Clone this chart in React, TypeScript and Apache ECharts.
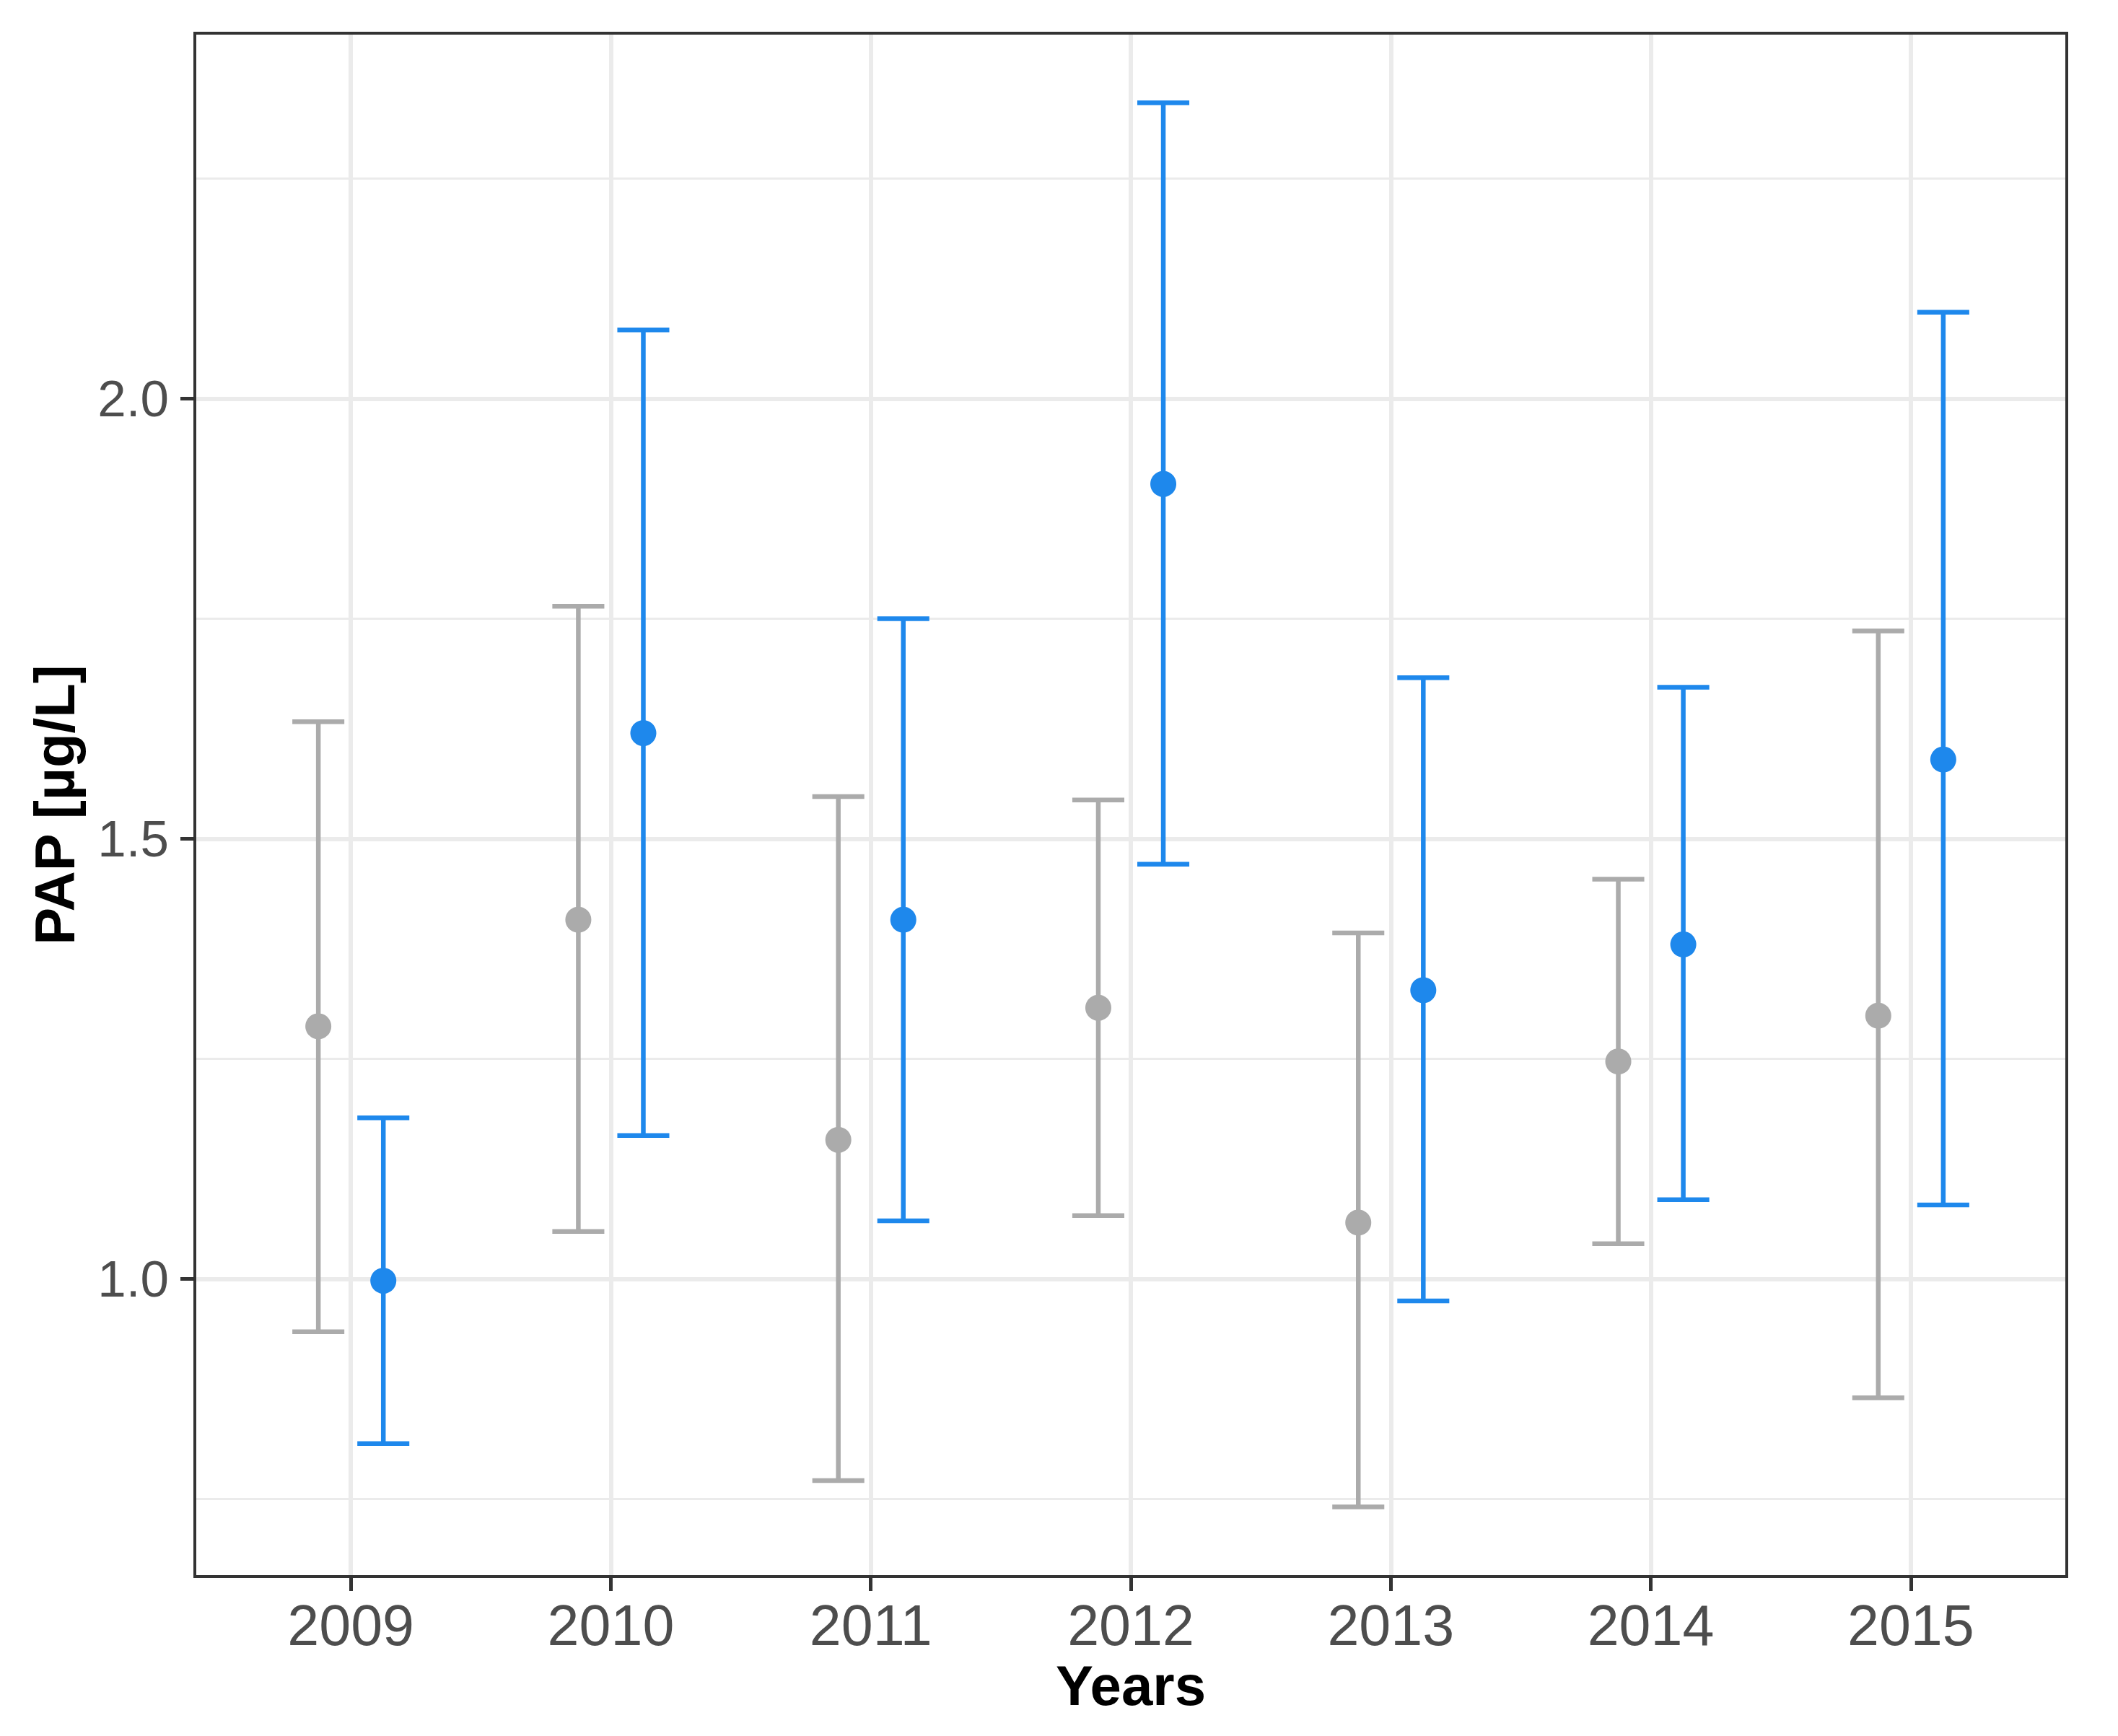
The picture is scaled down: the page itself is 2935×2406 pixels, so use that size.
import React, { useEffect, useRef } from 'react';
import * as echarts from 'echarts';

// ---- data ----
const years = [2009, 2010, 2011, 2012, 2013, 2014, 2015];
const greyMean = [1.287, 1.408, 1.158, 1.308, 1.064, 1.247, 1.299];
const greyLower = [0.940, 1.054, 0.771, 1.072, 0.741, 1.040, 0.865];
const greyUpper = [1.633, 1.764, 1.548, 1.544, 1.393, 1.454, 1.736];
const blueMean = [0.998, 1.620, 1.408, 1.903, 1.328, 1.380, 1.590];
const blueLower = [0.813, 1.163, 1.066, 1.471, 0.975, 1.090, 1.084];
const blueUpper = [1.183, 2.078, 1.750, 2.336, 1.683, 1.672, 2.098];
const yTicks = [1.0, 1.5, 2.0];
const yMinor = [0.75, 1.25, 1.75, 2.25];

// ---- style ----
const GREY = '#ABABAB';
const BLUE = '#1E88EC';
const DODGE = 0.125;
const CAP = 0.2;
const FONT = 'Liberation Sans, Arial, sans-serif';
const GRID_COLOR = '#EBEBEB';

function errSeries(lower: number[], upper: number[], color: string, off: number) {
  return {
    type: 'custom',
    z: 4,
    silent: true,
    data: years.map((y, i) => [y, lower[i], upper[i]]),
    encode: { x: 0, y: [1, 2] },
    renderItem: (params: any, api: any) => {
      const x = api.value(0) + off;
      const lo = api.coord([x, api.value(1)]);
      const hi = api.coord([x, api.value(2)]);
      const hw = api.size([CAP, 0])[0] / 2;
      const style = { stroke: color, lineWidth: 6.5, fill: null };
      return {
        type: 'group',
        children: [
          { type: 'line', shape: { x1: lo[0], y1: lo[1], x2: hi[0], y2: hi[1] }, style },
          { type: 'line', shape: { x1: hi[0] - hw, y1: hi[1], x2: hi[0] + hw, y2: hi[1] }, style },
          { type: 'line', shape: { x1: lo[0] - hw, y1: lo[1], x2: lo[0] + hw, y2: lo[1] }, style },
        ],
      };
    },
  };
}

export default function App() {
  const ref = useRef<HTMLDivElement>(null);
  useEffect(() => {
    const chart = echarts.init(ref.current!, null, { renderer: 'svg' });
    const gridLines: any[] = [
      ...yMinor.map((v) => ({ yAxis: v, lineStyle: { color: GRID_COLOR, width: 3, type: 'solid' } })),
      ...yTicks.map((v) => ({ yAxis: v, lineStyle: { color: GRID_COLOR, width: 6, type: 'solid' } })),
      ...years.map((v) => ({ xAxis: v, lineStyle: { color: GRID_COLOR, width: 6, type: 'solid' } })),
    ];
    const option: any = {
      animation: false,
      backgroundColor: '#FFFFFF',
      grid: {
        left: 270,
        right: 71,
        top: 46,
        bottom: 221,
        show: true,
        borderColor: '#333333',
        borderWidth: 4,
        backgroundColor: 'transparent',
        z: 3,
        outerBoundsMode: 'none',
      },
      xAxis: {
        type: 'value',
        min: 2008.4,
        max: 2015.6,
        name: 'Years',
        nameLocation: 'middle',
        nameGap: 112,
        nameTextStyle: { fontSize: 78, fontWeight: 'bold', color: '#000000', fontFamily: FONT },
        axisLine: { show: false },
        splitLine: { show: false },
        axisTick: {
          show: true,
          customValues: years,
          length: 20,
          lineStyle: { color: '#333333', width: 5 },
        },
        axisLabel: {
          customValues: years,
          formatter: (v: number) => String(v),
          fontSize: 79,
          color: '#4D4D4D',
          fontFamily: FONT,
          margin: 28,
        },
      },
      yAxis: {
        type: 'value',
        min: 0.662,
        max: 2.415,
        name: 'PAP [µg/L]',
        nameLocation: 'middle',
        nameGap: 155,
        nameTextStyle: { fontSize: 78, fontWeight: 'bold', color: '#000000', fontFamily: FONT },
        axisLine: { show: false },
        splitLine: { show: false },
        axisTick: {
          show: true,
          customValues: yTicks,
          length: 20,
          lineStyle: { color: '#333333', width: 5 },
        },
        axisLabel: {
          customValues: yTicks,
          formatter: (v: number) => v.toFixed(1),
          fontSize: 71,
          color: '#4D4D4D',
          fontFamily: FONT,
          margin: 36,
        },
      },
      series: [
        errSeries(greyLower, greyUpper, GREY, -DODGE),
        errSeries(blueLower, blueUpper, BLUE, DODGE),
        {
          type: 'scatter',
          z: 5,
          silent: true,
          symbol: 'circle',
          symbolSize: 36,
          itemStyle: { color: GREY, opacity: 1 },
          data: years.map((y, i) => [y - DODGE, greyMean[i]]),
          markLine: {
            silent: true,
            z: 1,
            symbol: ['none', 'none'],
            label: { show: false },
            emphasis: { disabled: true },
            data: gridLines,
          },
        },
        {
          type: 'scatter',
          z: 5,
          silent: true,
          symbol: 'circle',
          symbolSize: 36,
          itemStyle: { color: BLUE, opacity: 1 },
          data: years.map((y, i) => [y + DODGE, blueMean[i]]),
        },
      ],
    };
    chart.setOption(option);
    return () => chart.dispose();
  }, []);
  return (
    <div
      ref={ref}
      style={{ position: 'absolute', left: 0, top: 0, width: 2935, height: 2406, background: '#FFFFFF' }}
    />
  );
}
